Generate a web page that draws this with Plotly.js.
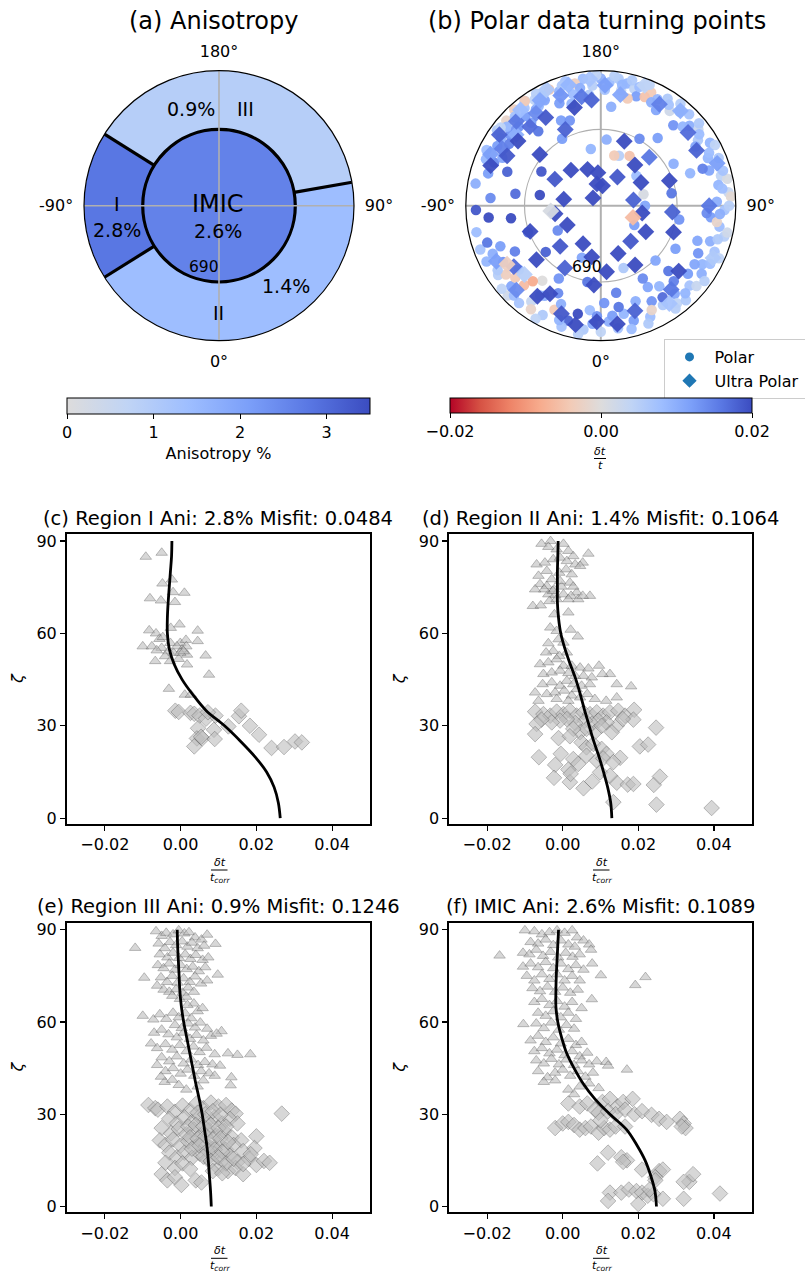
<!DOCTYPE html>
<html>
<head>
<meta charset="utf-8">
<script src="https://cdn.plot.ly/plotly-3.0.1.min.js"></script>
<style>
  html, body { margin: 0; padding: 0; background: #fff; }
  #chart { width: 805px; height: 1272px; }
</style>
</head>
<body>
<div id="chart"></div>
<script>
// ---------------------------------------------------------------------------
// Data
// ---------------------------------------------------------------------------

// Inner-core geometry (km) and angular tick labels of the two polar maps
const R_OUTER = 1221;
const R_IMIC = 690;
const ANGLE_TICKS = [0, 90, 180, 270];
const ANGLE_TICK_TEXT = ['0°', '90°', '180°', '-90°'];

// Regions of the outer shell: names, angular extent (deg), anisotropy (%) and misfit
const REGION_NAMES = ['I', 'II', 'III'];
const REGION_START = [-122, -58, 100];
const REGION_END = [-58, 100, 238];
const REGION_ANI = [2.8, 1.4, 0.9];
const REGION_MISFIT = [0.0484, 0.1064, 0.1246];
const IMIC_ANI = 2.6;
const IMIC_MISFIT = 0.1089;
const ANI_MAX = 3.5;
const ANI_TICKS = [0, 1, 2, 3];

// Polar turning points: [theta (deg), radius (km), dt/t]
const POLAR_POINTS = [
  [180,1150,0.010],[176,1120,0.008],[172,1160,0.006],[168,1130,0.009],[164,1100,0.004],[160,1150,0.007],
  [156,1120,-0.004],[152,1090,0.009],[148,1140,0.006],[144,1060,0.002],[140,1110,0.008],[136,1150,0.007],
  [132,1080,0.010],[128,1120,0.003],[124,1060,0.006],[120,1140,0.009],[184,1090,0.005],[188,1160,0.008],
  [192,1130,-0.003],[196,1170,0.007],[200,1100,0.009],[204,1150,-0.005],[208,1080,0.011],[212,1130,0.004],
  [216,1170,0.006],[220,1060,0.012],[224,1110,0.010],[228,1150,-0.002],[232,1040,0.013],[236,1000,0.015],
  [162,1040,0.012],[150,1000,0.011],[138,980,0.013],[170,1060,0.003],[186,1010,0.006],[196,960,0.009],
  [174,900,0.010],[205,850,0.012],[166,1000,-0.004],[158,1060,-0.005],
  [178,1050,0.007],[174,1180,0.005],[170,1110,0.009],[166,1170,0.006],[162,1130,0.008],[158,1180,0.004],
  [154,1040,0.010],[146,1100,0.007],[142,1170,0.005],[134,1030,0.009],[130,1160,0.006],[126,1100,0.008],
  [122,1010,0.011],[118,1170,0.004],[114,1060,0.009],[182,1180,0.004],[190,1080,0.010],[194,1040,0.008],
  [198,1140,0.006],[202,1000,0.012],[210,1170,0.005],[214,1050,0.011],[218,1120,0.007],[222,1170,-0.003],
  [226,1030,0.013],[230,1110,0.009],[234,1160,0.006],[240,1080,0.012],[244,1150,0.008],[248,1040,0.014],
  [116,1090,0.008],[112,1150,0.006],[108,1030,0.011],[104,1120,0.004],[100,1080,0.009],[96,1160,0.003],
  [92,1050,0.010],[88,1120,0.007],[84,1000,0.012],[80,1090,0.008],[76,1150,0.005],[72,1040,0.010],
  [68,1110,0.007],[64,980,0.013],[60,1060,0.009],[94,1180,-0.001],[86,960,0.014],[110,980,0.015],
  [78,1170,0.002],[70,930,0.011],[102,1170,0.001],[82,1060,-0.002],[106,1150,0.007],[98,1110,0.008],
  [90,1160,0.005],[86,1080,0.010],[74,1100,0.006],[66,1170,0.004],[62,1120,0.008],
  [56,1100,0.010],[52,1000,0.012],[48,1080,0.007],[44,950,0.015],[40,1040,0.011],[36,900,0.009],
  [32,1060,0.006],[28,980,0.013],[24,1100,0.008],[20,920,0.010],[38,1120,0.004],[46,850,0.016],
  [30,850,0.011],[50,1130,0.003],[26,1050,-0.002],[34,1000,0.017],[42,1150,0.006],[58,1000,0.011],
  [54,1160,0.005],[44,1100,0.009],[36,1150,0.005],[22,1150,0.006],
  [16,1080,0.012],[12,1000,0.009],[8,1120,0.007],[4,1050,0.010],[0,1140,0.004],[-4,1070,0.011],
  [-8,1130,0.006],[-12,1000,0.020],[-16,1080,0.018],[10,930,0.016],[2,880,0.013],[-6,950,0.008],
  [14,1150,0.008],[6,1000,0.012],[-2,1000,0.013],[-10,1180,0.005],[-18,1150,0.007],
  [-20,1100,0.009],[-24,1030,-0.004],[-28,1120,0.006],[-32,960,0.010],[-36,1070,0.003],[-40,1150,0.007],
  [-44,1000,-0.006],[-48,1090,0.011],[-52,940,0.008],[-56,1120,0.005],[-60,1020,0.013],[-64,1150,0.009],
  [-68,980,0.012],[-26,880,0.014],[-38,860,0.000],[-46,1170,0.002],[-54,1060,-0.003],[-30,1180,0.004],
  [-62,880,0.015],[-42,920,-0.008],[-22,960,0.010],[-34,1130,-0.002],[-50,1170,0.004],[-58,1100,0.006],
  [-66,1070,0.010],[-70,1160,0.007],[-34,980,0.009],[-50,1010,-0.004],[-44,1130,0.008],
  [-72,1080,0.016],[-78,1150,0.008],[-84,1020,0.020],[-88,1130,0.019],[-94,1000,0.014],[-100,1150,0.010],
  [-106,1060,0.012],[-112,1120,0.009],[-116,990,0.011],[-82,820,0.020],[-98,780,0.017],
  [-124,1090,0.010],[-128,1150,0.004],[-132,1030,0.013],[-136,1120,0.007],[-140,980,0.012],[-144,1170,-0.004],
  [-148,1060,0.009],[-152,1130,0.006],
  [150,700,0.014],[140,800,0.012],[120,760,0.010],[100,650,0.016],[80,720,0.013],[60,780,0.012],
  [45,700,0.011],[30,760,0.014],[10,800,0.015],[-10,700,0.016],[-30,760,0.013],[-50,650,0.018],
  [-70,700,0.017],[-100,560,0.020],[-120,620,0.019],[-150,700,0.012],[-170,520,0.009],[175,600,0.010],
  [160,480,0.005],[130,420,0.008],[90,400,0.011],[60,350,0.012],[-60,450,0.014],[-110,900,0.018],
  [-140,880,0.016],[-160,820,0.013],[110,860,0.009],[20,600,0.006],[-20,500,0.011],[165,470,-0.004],
  [150,520,-0.005],[105,400,0.001]
];

// Ultra-polar turning points: [theta (deg), radius (km), dt/t]
const ULTRA_POINTS = [
  [160,620,0.020],[140,480,0.020],[150,300,0.019],[120,420,0.020],[100,300,0.018],[80,380,0.020],
  [60,470,0.020],[40,420,0.019],[20,460,0.020],[5,600,0.020],[-10,470,0.020],[-25,380,0.020],
  [-45,520,0.019],[-60,350,0.020],[-80,420,0.020],[-100,340,0.020],[-120,480,0.019],[-140,420,0.020],
  [-160,350,0.020],[-175,300,0.020],[175,180,0.020],[135,620,0.016],[110,660,0.020],[85,650,0.018],
  [70,700,0.020],[30,620,0.020],[-5,720,0.020],[-30,650,0.018],[-50,760,0.020],[-70,680,0.020],
  [-130,720,0.020],[-155,760,0.018],[190,200,0.020],[225,100,0.020],[70,310,-0.006],[-84,455,0.001],
  [-115,1100,0.012],[-120,1030,0.015],[-125,1120,0.018],[-130,1000,0.010],[-135,1080,0.016],[-140,1130,0.008],
  [-145,1020,0.014],[-150,1100,0.011],[-155,1160,0.006],[-160,1060,0.013],[-165,1130,0.009],[-170,1000,0.016],
  [-175,1150,0.007],[178,1090,0.012],[170,1020,0.011],[160,1160,0.004],[150,1060,0.015],[140,1120,0.010],
  [130,1030,0.017],[120,1000,0.018],[110,1120,0.012],[-110,1060,0.020],[-118,960,0.019],[-128,950,0.020],
  [-138,960,0.017],[-148,940,0.019],[-165,920,0.020],[-175,960,0.018],[-12,1100,0.020],[-2,1050,0.020],
  [8,1080,0.020],[-20,1040,0.019],[-35,1000,0.020],[-45,1080,0.014],[-55,960,0.017],[-62,1070,0.012],
  [-58,1000,-0.003],[-48,930,0.005],[-30,920,0.020],[18,1000,0.018],[40,990,0.016],[50,920,0.020],
  [65,1120,0.006],[35,1080,0.007],[90,980,0.016]
];
const DT_RANGE = [-0.02, 0.02];

// Residuals against zeta: [dt/t_corr, zeta] for polar (triangles) and ultra-polar (diamonds)
const REGION_I_POLAR = [
  [-0.0092,84.9],[-0.0050,86.2],[-0.0048,76.2],[-0.0023,77.5],[-0.0020,73.4],[0.0010,73.2],[-0.0081,71.4],
  [-0.0052,70.7],[-0.0015,70.2],[-0.0083,61.0],[-0.0065,60.0],[-0.0026,61.8],[-0.0003,62.9],[0.0045,60.9],
  [-0.0100,55.8],[-0.0076,55.8],[-0.0056,58.2],[-0.0047,58.8],[-0.0027,56.9],[-0.0001,56.9],[0.0014,57.9],
  [0.0045,57.5],[-0.0067,51.0],[-0.0050,55.3],[-0.0032,54.2],[-0.0019,53.7],[-0.0010,55.8],[0.0004,54.8],
  [0.0015,55.8],[0.0017,53.1],[-0.0063,54.5],[-0.0041,52.6],[-0.0028,51.0],[-0.0005,51.7],[0.0017,49.9],
  [0.0066,52.8],[0.0075,46.6],[-0.0031,42.0],[0.0011,40.1],[0.0027,40.1],[-0.0001,53.7],[0.0008,54.2]
];
const REGION_I_ULTRA = [
  [-0.0014,34.9],[-0.0005,34.5],[0.0026,34.2],[0.0036,33.9],[0.0050,33.3],[0.0067,32.3],[0.0092,33.3],
  [0.0072,34.4],[0.0126,29.8],[0.0154,33.1],[0.0160,34.9],[0.0183,30.0],[0.0207,27.1],[0.0240,22.8],
  [0.0273,23.1],[0.0302,24.9],[0.0320,24.6],[0.0046,29.2],[0.0088,28.7],[0.0043,25.9],[0.0057,25.9],
  [0.0090,25.7],[0.0036,23.3],[0.0054,26.4]
];
const REGION_II_POLAR = [
  [-0.0056,89.1],[-0.0032,90.0],[0.0002,89.1],[-0.0038,88.1],[-0.0016,87.3],[0.0015,86.8],[0.0028,85.1],
  [0.0068,85.9],[0.0053,83.0],[-0.0069,82.4],[-0.0047,83.0],[-0.0025,84.1],[-0.0007,84.6],[0.0011,83.5],
  [0.0033,82.4],[-0.0064,78.7],[-0.0042,80.3],[-0.0029,77.6],[-0.0009,79.7],[0.0009,80.8],[0.0024,79.2],
  [0.0046,81.9],[-0.0060,76.0],[-0.0042,75.4],[-0.0023,74.3],[-0.0003,75.2],[0.0019,76.5],[0.0037,73.3],
  [-0.0038,72.7],[-0.0020,72.4],[0.0002,72.7],[0.0022,72.2],[0.0041,71.1],[0.0072,72.2],[-0.0079,68.9],
  [-0.0058,69.1],[-0.0035,70.5],[-0.0016,71.1],[0.0015,71.1],[-0.0026,73.8],[-0.0049,74.3],[0.0053,72.2],
  [-0.0073,74.3],[-0.0007,77.0],[0.0028,75.2],
  [-0.0022,66.2],[0.0015,66.8],[-0.0033,61.9],[-0.0016,60.8],[0.0021,61.2],[0.0040,59.0],[-0.0038,56.8],
  [-0.0011,58.1],[0.0002,57.0],[-0.0025,54.3],[0.0011,53.8],[-0.0009,52.7],[-0.0044,53.8],
  [-0.0060,50.0],[-0.0038,50.6],[-0.0016,51.6],[0.0002,49.5],[0.0024,49.5],[0.0046,48.9],[0.0068,48.6],
  [0.0096,49.5],[0.0125,46.8],[-0.0051,46.8],[-0.0029,47.3],[-0.0007,47.9],[0.0015,47.1],[0.0033,46.2],
  [0.0055,46.2],[0.0077,45.7],[0.0105,46.8],[0.0143,43.5],[0.0181,42.8],[-0.0073,40.8],[-0.0053,43.5],
  [-0.0029,44.1],[-0.0007,43.0],[0.0011,44.6],[0.0028,43.5],[0.0050,43.0],[0.0072,43.5],[-0.0064,38.1],
  [-0.0042,40.3],[-0.0020,40.8],[0.0004,41.4],[0.0024,39.8],[0.0046,39.2],[0.0065,40.3],[0.0085,38.7],
  [0.0115,38.1],[0.0143,39.2],[0.0015,38.1],[-0.0016,38.7],[0.0037,41.9]
];
const REGION_II_ULTRA = [
  [-0.0073,34.6],[-0.0051,33.8],[-0.0033,33.3],[-0.0016,34.6],[0.0002,33.8],[0.0019,34.9],[0.0037,33.3],
  [0.0055,34.4],[0.0072,33.8],[0.0090,34.4],[0.0107,33.3],[0.0125,34.4],[0.0147,34.9],[0.0165,33.3],
  [0.0189,35.2],[0.0187,32.0],[0.0143,30.0],[0.0116,31.1],[0.0094,31.7],[0.0077,30.6],[0.0059,31.7],
  [0.0033,30.9],[0.0011,32.2],[-0.0007,31.7],[-0.0029,31.1],[-0.0056,32.0],[-0.0069,30.6],[-0.0073,27.3],
  [0.0046,27.9],[0.0085,27.9],[0.0063,29.0],[0.0028,29.0],[0.0103,30.0],[0.0130,27.9],[0.0247,29.4],
  [0.0159,32.2],[-0.0011,26.0],[0.0019,26.6],[0.0050,24.6],[0.0063,23.0],[0.0081,24.1],[0.0103,22.5],
  [0.0116,20.9],[0.0152,19.6],[0.0204,23.3],[0.0226,23.9],[-0.0063,19.8],[-0.0005,20.9],[0.0028,19.2],
  [0.0041,17.6],[0.0063,20.3],[0.0090,18.7],[0.0107,19.4],[0.0134,18.2],[-0.0020,17.3],[0.0015,15.8],
  [-0.0023,13.1],[0.0019,11.7],[0.0078,11.9],[0.0055,9.7],[0.0021,14.4],[0.0143,11.5],[0.0172,10.9],
  [0.0187,11.1],[0.0241,10.8],[0.0257,13.5],[0.0134,5.2],[0.0248,4.4],[0.0394,3.3],[0.0099,14.9],
  [0.0125,13.8]
];
const REGION_III_POLAR = [
  [-0.0065,89.5],[-0.0050,88.0],[-0.0038,89.0],[-0.0020,88.5],[-0.0005,89.8],[0.0010,88.8],[0.0022,89.2],
  [0.0038,87.5],[0.0055,86.8],[0.0070,88.4],[0.0092,85.4],[-0.0058,85.5],[-0.0042,84.0],[-0.0028,86.0],
  [-0.0012,85.0],[0.0004,86.2],[0.0018,84.5],[0.0030,85.8],[0.0045,84.0],[0.0062,84.8],[-0.0120,84.1],
  [-0.0055,82.0],[-0.0035,81.0],[-0.0020,82.5],[-0.0004,80.8],[0.0012,82.0],[0.0026,80.5],[0.0040,81.8],
  [0.0058,80.2],[0.0073,81.0],[-0.0060,78.5],[-0.0045,77.5],[-0.0030,79.0],[-0.0015,77.0],[0.0000,78.5],
  [0.0016,77.2],[0.0032,78.0],[0.0048,76.5],[0.0065,77.8],[0.0098,75.4],[-0.0096,74.4],[-0.0052,74.5],
  [-0.0036,73.0],[-0.0022,75.0],[-0.0008,72.8],[0.0008,74.2],[0.0024,73.0],[0.0038,74.8],[0.0054,72.5],
  [0.0070,73.5],[-0.0062,71.8],[-0.0045,70.5],[-0.0030,69.8],[-0.0012,70.6],[0.0005,69.5],[0.0020,71.2],
  [0.0035,69.8],[-0.0022,68.5],[-0.0002,67.5],[0.0015,68.2],
  [-0.0100,62.0],[-0.0072,60.8],[-0.0055,62.5],[-0.0038,61.0],[-0.0020,63.0],[-0.0005,61.5],[0.0012,62.8],
  [0.0028,61.2],[0.0045,63.5],[0.0058,64.5],[0.0035,66.0],[0.0018,65.5],[-0.0015,59.0],[0.0003,58.0],
  [0.0020,59.5],[0.0038,58.2],[0.0052,59.8],[0.0070,57.8],[0.0108,57.0],[-0.0070,56.5],[-0.0050,57.5],
  [-0.0032,56.0],[-0.0010,55.0],[0.0008,56.5],[0.0025,54.5],[0.0042,55.8],[0.0060,54.0],[0.0080,55.5],
  [0.0095,56.2],[-0.0078,53.0],[-0.0062,51.5],[-0.0040,52.8],[-0.0022,51.0],[-0.0002,52.5],[0.0016,50.5],
  [0.0034,52.0],[0.0050,50.2],[0.0068,51.6],[0.0090,49.5],[0.0125,49.8],[0.0150,49.3],[0.0184,49.5],
  [-0.0050,48.5],[-0.0030,47.2],[-0.0010,48.8],[0.0008,46.5],[0.0028,47.8],[0.0046,46.0],[0.0064,47.0],
  [0.0084,46.2],[0.0104,45.8],[-0.0062,46.0],[-0.0040,44.0],[-0.0020,45.0],[0.0000,43.2],[0.0018,44.5],
  [0.0036,42.5],[0.0054,44.0],[0.0075,43.3],[0.0090,42.5],[0.0134,42.0],[-0.0042,40.5],[-0.0022,41.2],
  [-0.0005,39.5],[0.0015,38.0],[0.0045,39.0],[0.0060,41.0],[0.0132,39.4],[-0.0052,42.2]
];
const REGION_III_ULTRA = [
  [-0.0085,33.0],[-0.0067,32.0],[-0.0060,31.5],[-0.0035,32.5],[-0.0015,30.8],[0.0005,32.8],[0.0025,31.2],
  [0.0042,33.5],[0.0060,32.0],[0.0080,33.8],[0.0100,32.5],[0.0120,33.0],[0.0135,31.2],[0.0145,30.2],
  [0.0267,30.2],[-0.0030,28.5],[-0.0010,27.0],[0.0010,29.0],[0.0030,27.5],[0.0050,29.2],[0.0070,27.8],
  [0.0090,29.0],[0.0110,27.0],[0.0130,28.5],[0.0150,27.0],[-0.0050,25.5],[-0.0025,23.8],[-0.0005,25.2],
  [0.0015,23.5],[0.0035,25.0],[0.0055,23.2],[0.0075,24.8],[0.0095,23.0],[0.0115,24.5],[0.0135,22.5],
  [0.0160,21.5],[0.0200,22.8],[-0.0055,21.5],[-0.0040,20.0],[-0.0020,21.8],[0.0000,19.8],[0.0020,21.2],
  [0.0040,19.5],[0.0060,21.0],[0.0080,19.0],[0.0100,20.5],[0.0120,18.5],[0.0140,20.0],[0.0165,18.0],
  [0.0195,19.0],[-0.0030,17.5],[-0.0010,16.0],[0.0010,17.5],[0.0030,15.8],[0.0050,17.2],[0.0070,15.5],
  [0.0090,17.0],[0.0110,15.0],[0.0130,16.5],[0.0150,14.5],[0.0180,15.5],[0.0200,13.5],[0.0220,14.8],
  [0.0235,14.2],[-0.0040,14.2],[-0.0015,12.5],[0.0005,14.0],[0.0025,12.2],[0.0100,12.5],[0.0125,11.5],
  [0.0145,12.5],[0.0165,10.5],[-0.0050,10.5],[-0.0035,8.5],[-0.0015,9.5],[0.0002,7.0],[0.0040,8.5],
  [0.0055,7.8],[0.0045,30.5],[0.0065,30.0],[0.0085,31.0],[0.0105,29.8],[0.0020,26.0],[0.0040,26.5],
  [0.0060,26.0],[0.0080,26.5],[0.0100,25.5],[0.0120,26.0],[0.0025,22.5],[0.0045,22.0],[0.0065,22.8],
  [0.0085,21.8],[0.0105,22.2],[0.0125,21.0],[0.0030,18.8],[0.0050,19.8],[0.0070,18.2],[0.0090,18.5],
  [0.0110,17.8],[0.0060,16.2],[0.0080,14.8],[0.0100,16.0],[0.0120,14.0],[0.0140,15.5],[0.0085,11.5],
  [0.0110,10.8],[0.0165,13.8],[0.0185,17.0]
];
const IMIC_POLAR = [
  [-0.0100,89.8],[-0.0075,89.5],[-0.0055,88.5],[-0.0035,89.2],[-0.0015,89.8],[0.0005,89.0],[0.0025,89.8],
  [0.0038,87.5],[0.0055,86.5],[0.0070,85.2],[-0.0085,86.0],[-0.0065,85.5],[-0.0045,86.8],[-0.0025,85.0],
  [-0.0005,86.5],[0.0015,85.2],[0.0032,84.5],[-0.0167,81.6],[-0.0105,82.5],[-0.0088,82.0],[-0.0070,83.5],
  [-0.0052,81.5],[-0.0032,82.8],[-0.0012,81.0],[0.0008,82.5],[0.0026,81.2],[0.0045,82.0],[0.0075,83.5],
  [-0.0105,78.0],[-0.0085,79.0],[-0.0065,77.8],[-0.0045,79.5],[-0.0025,77.5],[-0.0005,79.0],[0.0015,77.2],
  [0.0035,78.5],[0.0055,77.0],[0.0078,79.0],[-0.0095,75.0],[-0.0075,73.5],[-0.0055,75.5],[-0.0035,74.0],
  [-0.0015,75.5],[0.0005,73.5],[0.0025,75.0],[0.0045,73.5],[0.0101,75.2],[0.0192,72.0],[0.0219,74.6],
  [-0.0080,71.0],[-0.0060,70.0],[-0.0040,71.5],[-0.0020,69.8],[0.0000,71.2],[0.0020,69.5],[0.0040,70.5],
  [-0.0075,66.5],[-0.0055,67.5],[-0.0035,65.5],[-0.0015,66.8],[0.0005,65.0],[0.0025,66.5],[0.0077,67.4],
  [0.0050,64.5],[-0.0065,63.0],[-0.0045,62.0],[-0.0025,63.5],[-0.0005,61.5],[0.0015,63.0],[0.0035,61.0],
  [-0.0104,59.3],[-0.0070,59.5],[-0.0050,58.0],[-0.0030,59.8],[-0.0010,57.5],[0.0010,59.0],[0.0030,57.8],
  [-0.0085,54.0],[-0.0065,55.5],[-0.0045,53.5],[-0.0025,55.0],[-0.0005,53.0],[0.0015,54.5],[0.0035,52.5],
  [0.0050,53.5],[-0.0075,50.5],[-0.0055,51.5],[-0.0035,49.8],[-0.0015,51.0],[0.0005,49.2],[0.0025,50.5],
  [0.0045,48.8],[0.0065,50.0],[-0.0070,47.5],[-0.0050,46.5],[-0.0030,48.0],[-0.0010,46.2],[0.0010,47.8],
  [0.0030,46.0],[0.0050,47.5],[0.0070,46.2],[0.0090,47.2],[0.0115,47.0],[0.0120,45.8],[0.0170,44.5],
  [-0.0065,44.0],[-0.0040,42.0],[-0.0020,43.5],[0.0000,44.5],[0.0020,42.5],[0.0040,44.0],[0.0060,42.2],
  [0.0080,43.5],[-0.0050,40.5],[-0.0020,41.0],[0.0015,38.0],[0.0045,39.0],[0.0070,40.0],[0.0095,38.5],
  [0.0030,36.5]
];
const IMIC_ULTRA = [
  [0.0015,33.5],[0.0045,32.5],[0.0065,33.5],[0.0085,31.5],[0.0105,34.0],[0.0125,35.0],[0.0145,32.5],
  [0.0160,34.0],[0.0185,35.0],[0.0095,30.5],[0.0120,31.0],[0.0140,30.0],[0.0165,31.5],[0.0190,30.0],
  [0.0210,31.0],[0.0235,29.8],[0.0255,28.5],[0.0275,27.5],[0.0310,28.5],[0.0320,27.0],[0.0325,25.5],
  [0.0315,26.0],[-0.0020,25.5],[0.0000,27.0],[0.0015,27.5],[0.0030,26.5],[0.0045,25.0],[0.0060,25.5],
  [0.0075,26.0],[0.0095,24.0],[0.0110,25.5],[0.0125,25.0],[0.0140,26.0],[0.0165,26.0],[0.0100,28.0],
  [0.0120,17.5],[0.0092,14.0],[0.0155,16.0],[0.0170,15.0],[0.0160,14.5],[0.0210,12.0],[0.0255,11.5],
  [0.0265,12.0],[0.0245,9.5],[0.0335,8.0],[0.0345,10.5],[0.0320,8.0],[0.0125,4.5],[0.0155,4.5],
  [0.0175,5.5],[0.0195,5.0],[0.0210,4.5],[0.0225,3.5],[0.0240,4.0],[0.0265,2.5],[0.0120,1.8],
  [0.0200,0.8],[0.0320,2.5],[0.0416,4.2],[0.0245,8.5],[0.0230,5.5]
];

// Best-fitting model curves, sampled every 5 degrees of zeta
const CURVE_ZETA = [0,5,10,15,20,25,30,35,40,45,50,55,60,65,70,75,80,85,90];
const CURVE_I = [0.0263,0.0258,0.0247,0.0227,0.0196,0.0158,0.0116,0.0067,0.0033,0.0004,-0.0017,-0.0030,-0.0035,-0.0035,-0.0033,-0.0030,-0.0027,-0.0024,-0.0023];
const CURVE_II = [0.0130,0.0127,0.0119,0.0108,0.0096,0.0082,0.0070,0.0058,0.0047,0.0035,0.0020,0.0006,-0.0005,-0.0011,-0.0014,-0.0014,-0.0014,-0.0013,-0.0012];
const CURVE_III = [0.0081,0.0079,0.0076,0.0073,0.0069,0.0063,0.0057,0.0049,0.0040,0.0032,0.0024,0.0016,0.0008,0.0002,-0.0002,-0.0004,-0.0006,-0.0008,-0.0009];
const CURVE_IMIC = [0.0248,0.0244,0.0233,0.0218,0.0196,0.0169,0.0125,0.0085,0.0054,0.0030,0.0010,-0.0003,-0.0013,-0.0018,-0.0018,-0.0017,-0.0015,-0.0013,-0.0011];

// Axis ticks of the residual panels
const X_RANGE = [-0.03, 0.05];
const X_TICKS = [-0.02, 0, 0.02, 0.04];
const X_TICK_TEXT = ['\u22120.02', '0.00', '0.02', '0.04'];
const Y_RANGE = [-1.9, 92.3];
const Y_TICKS = [0, 30, 60, 90];

// ---------------------------------------------------------------------------
// Styling helpers
// ---------------------------------------------------------------------------
const W = 805, H = 1272;
const px = v => v / W;           // pixel column -> paper x
const py = v => 1 - v / H;       // pixel row    -> paper y
const FONT = '"DejaVu Sans", Verdana, sans-serif';
const font = (size, extra) => Object.assign({ family: FONT, size: size, color: '#000' }, extra || {});

// matplotlib "coolwarm" sampled at 11 stops
const COOLWARM = ['#3b4cc0','#5977e3','#7b9ff9','#9ebeff','#c0d4f5','#dddcdc',
                  '#f2cbb7','#f7ac8e','#ee8468','#d65244','#b40426'];
const ANI_SCALE = [[0, COOLWARM[5]], [0.2, COOLWARM[4]], [0.4, COOLWARM[3]],
                   [0.6, COOLWARM[2]], [0.8, COOLWARM[1]], [1, COOLWARM[0]]];
const DT_SCALE = COOLWARM.slice().reverse().map((c, i) => [i / 10, c]);

const traces = [];
const annotations = [];
const shapes = [];

// ---------------------------------------------------------------------------
// (a) Anisotropy map
// ---------------------------------------------------------------------------
const sectorCentres = REGION_START.map((s, i) => (s + REGION_END[i]) / 2);
const sectorWidths = REGION_START.map((s, i) => REGION_END[i] - s);

traces.push({
  type: 'barpolar', subplot: 'polar',
  theta: sectorCentres.concat([0]),
  width: sectorWidths.concat([360]),
  base: REGION_NAMES.map(() => R_IMIC).concat([0]),
  r: REGION_NAMES.map(() => R_OUTER - R_IMIC).concat([R_IMIC]),
  marker: {
    color: REGION_ANI.concat([IMIC_ANI]),
    colorscale: ANI_SCALE, cmin: 0, cmax: ANI_MAX, showscale: true,
    line: { width: 0 },
    colorbar: {
      orientation: 'h', x: px(218.5), xanchor: 'center', y: py(398), yanchor: 'top',
      len: 303 / W, lenmode: 'fraction', thickness: 15.5, thicknessmode: 'pixels',
      xpad: 0, ypad: 0, outlinewidth: 1, outlinecolor: '#000',
      ticks: 'outside', ticklen: 5, tickwidth: 1, tickcolor: '#000',
      tickvals: ANI_TICKS, tickfont: font(16),
      title: { text: 'Anisotropy %', side: 'bottom', font: font(16) }
    }
  },
  showlegend: false, hoverinfo: 'skip'
});

// grid cross drawn on top of the filled sectors
const crossR = [], crossT = [];
ANGLE_TICKS.forEach(t => { crossR.push(0, R_OUTER, null); crossT.push(t, t, null); });
traces.push({
  type: 'scatterpolar', subplot: 'polar', mode: 'lines',
  r: crossR, theta: crossT, line: { color: '#b0b0b0', width: 1.6 },
  showlegend: false, hoverinfo: 'skip'
});

// IMIC boundary
traces.push({
  type: 'barpolar', subplot: 'polar',
  theta: [0], width: [360], base: [0], r: [R_IMIC],
  marker: { color: 'rgba(0,0,0,0)', line: { color: '#000', width: 3.2 } },
  showlegend: false, hoverinfo: 'skip'
});

// region boundaries in the outer shell
const edgeR = [], edgeT = [];
REGION_END.forEach(a => { edgeR.push(R_IMIC, R_OUTER, null); edgeT.push(a, a, null); });
traces.push({
  type: 'scatterpolar', subplot: 'polar', mode: 'lines',
  r: edgeR, theta: edgeT, line: { color: '#000', width: 3.2 },
  showlegend: false, hoverinfo: 'skip'
});

// ---------------------------------------------------------------------------
// (b) Turning points
// ---------------------------------------------------------------------------
traces.push({
  type: 'scatterpolar', subplot: 'polar2', mode: 'markers', name: 'Polar',
  theta: POLAR_POINTS.map(p => p[0]), r: POLAR_POINTS.map(p => p[1]),
  marker: {
    symbol: 'circle', size: 10.5, opacity: 0.95,
    color: POLAR_POINTS.map(p => p[2]), colorscale: DT_SCALE,
    cmin: DT_RANGE[0], cmax: DT_RANGE[1], showscale: true,
    colorbar: {
      orientation: 'h', x: px(601), xanchor: 'center', y: py(397.7), yanchor: 'top',
      len: 302 / W, lenmode: 'fraction', thickness: 14.6, thicknessmode: 'pixels',
      xpad: 0, ypad: 0, outlinewidth: 1, outlinecolor: '#000',
      ticks: 'outside', ticklen: 5, tickwidth: 1, tickcolor: '#000',
      tickvals: [DT_RANGE[0], 0, DT_RANGE[1]], ticktext: ['\u22120.02', '0.00', '0.02'],
      tickfont: font(16)
    }
  },
  showlegend: false, hoverinfo: 'skip'
});
traces.push({
  type: 'scatterpolar', subplot: 'polar2', mode: 'markers', name: 'Ultra Polar',
  theta: ULTRA_POINTS.map(p => p[0]), r: ULTRA_POINTS.map(p => p[1]),
  marker: {
    symbol: 'diamond', size: 13, opacity: 0.95,
    color: ULTRA_POINTS.map(p => p[2]), colorscale: DT_SCALE,
    cmin: DT_RANGE[0], cmax: DT_RANGE[1], showscale: false
  },
  showlegend: false, hoverinfo: 'skip'
});
// legend entries
[['Polar', 'circle', 9], ['Ultra Polar', 'diamond', 11]].forEach(([name, symbol, size]) => {
  traces.push({
    type: 'scatterpolar', subplot: 'polar2', mode: 'markers', name: name,
    r: [null], theta: [null], marker: { symbol: symbol, size: size, color: '#1f77b4' },
    showlegend: true, hoverinfo: 'skip'
  });
});

// ---------------------------------------------------------------------------
// (c)-(f) Residuals against zeta
// ---------------------------------------------------------------------------
const panels = [
  { letter: 'c', label: 'Region ' + REGION_NAMES[0], ani: REGION_ANI[0], misfit: REGION_MISFIT[0],
    tri: REGION_I_POLAR, dia: REGION_I_ULTRA, curve: CURVE_I, box: [67, 370, 534, 824] },
  { letter: 'd', label: 'Region ' + REGION_NAMES[1], ani: REGION_ANI[1], misfit: REGION_MISFIT[1],
    tri: REGION_II_POLAR, dia: REGION_II_ULTRA, curve: CURVE_II, box: [449.3, 751.7, 534, 824] },
  { letter: 'e', label: 'Region ' + REGION_NAMES[2], ani: REGION_ANI[2], misfit: REGION_MISFIT[2],
    tri: REGION_III_POLAR, dia: REGION_III_ULTRA, curve: CURVE_III, box: [67, 370, 922.7, 1212.3] },
  { letter: 'f', label: 'IMIC', ani: IMIC_ANI, misfit: IMIC_MISFIT,
    tri: IMIC_POLAR, dia: IMIC_ULTRA, curve: CURVE_IMIC, box: [449.3, 751.7, 922.7, 1212.3] }
];

const layout = {
  width: W, height: H,
  margin: { l: 0, r: 0, t: 0, b: 0, pad: 0, autoexpand: false },
  paper_bgcolor: '#fff', plot_bgcolor: '#fff',
  font: font(16),
  showlegend: true,
  legend: {
    x: px(663.5), xanchor: 'left', y: py(339), yanchor: 'top',
    bgcolor: 'rgba(255,255,255,0.85)', bordercolor: '#cccccc', borderwidth: 1,
    font: font(16), itemwidth: 40, tracegroupgap: 0
  }
};

const markerLine = { color: '#444', width: 0.6 };
panels.forEach((p, i) => {
  const n = i + 1;
  const xa = 'x' + (n === 1 ? '' : n), ya = 'y' + (n === 1 ? '' : n);
  const [x0, x1, y0, y1] = p.box;
  traces.push({
    type: 'scatter', mode: 'markers', xaxis: xa, yaxis: ya,
    x: p.tri.map(d => d[0]), y: p.tri.map(d => d[1]),
    marker: { symbol: 'triangle-up', size: 10, color: '#bdbdbd', opacity: 0.6, line: markerLine },
    showlegend: false, hoverinfo: 'skip'
  });
  traces.push({
    type: 'scatter', mode: 'markers', xaxis: xa, yaxis: ya,
    x: p.dia.map(d => d[0]), y: p.dia.map(d => d[1]),
    marker: { symbol: 'diamond', size: 12, color: '#bdbdbd', opacity: 0.6, line: markerLine },
    showlegend: false, hoverinfo: 'skip'
  });
  traces.push({
    type: 'scatter', mode: 'lines', xaxis: xa, yaxis: ya,
    x: p.curve, y: CURVE_ZETA,
    line: { color: '#000', width: 2.8, shape: 'spline', smoothing: 1 },
    showlegend: false, hoverinfo: 'skip'
  });

  const axisCommon = {
    showline: true, linecolor: '#000', linewidth: 2, mirror: true,
    ticks: 'outside', ticklen: 5, tickwidth: 1.2, tickcolor: '#000',
    showgrid: false, zeroline: false, fixedrange: true, tickfont: font(16)
  };
  layout['xaxis' + (n === 1 ? '' : n)] = Object.assign({}, axisCommon, {
    domain: [px(x0), px(x1)], anchor: ya, range: X_RANGE,
    tickvals: X_TICKS, ticktext: X_TICK_TEXT
  });
  layout['yaxis' + (n === 1 ? '' : n)] = Object.assign({}, axisCommon, {
    domain: [py(y1), py(y0)], anchor: xa, range: Y_RANGE, tickvals: Y_TICKS
  });

  const cx = (x0 + x1) / 2;
  // panel title
  annotations.push({
    xref: 'paper', yref: 'paper', x: px(cx), y: py(y0 - 16), xanchor: 'center', yanchor: 'middle',
    text: '(' + p.letter + ') ' + p.label + ' Ani: ' + p.ani.toFixed(1) + '% Misfit: ' + p.misfit.toFixed(4),
    showarrow: false, font: font(19.5)
  });
  // zeta label
  annotations.push({
    xref: 'paper', yref: 'paper', x: px(x0 - 50), y: py((y0 + y1) / 2), xanchor: 'center', yanchor: 'middle',
    text: '<i>ζ</i>', textangle: -90, showarrow: false, font: font(16)
  });
  // dt / t_corr fraction label
  annotations.push({
    xref: 'paper', yref: 'paper', x: px(cx + 1), y: py(y1 + 38.5), xanchor: 'center', yanchor: 'middle',
    text: '<i>δt</i>', showarrow: false, font: font(11)
  });
  annotations.push({
    xref: 'paper', yref: 'paper', x: px(cx + 1), y: py(y1 + 53.5), xanchor: 'center', yanchor: 'middle',
    text: '<i>t</i><sub><i>corr</i></sub>', showarrow: false, font: font(11)
  });
  shapes.push({
    type: 'line', xref: 'paper', yref: 'paper',
    x0: px(cx - 7.5), x1: px(cx + 9), y0: py(y1 + 46), y1: py(y1 + 46),
    line: { color: '#000', width: 1 }
  });
});

// ---------------------------------------------------------------------------
// Polar subplots
// ---------------------------------------------------------------------------
function polarAxes(domainX, gridOn) {
  return {
    domain: { x: domainX, y: [py(340.7), py(70.7)] },
    bgcolor: '#fff',
    angularaxis: {
      rotation: -90, direction: 'counterclockwise',
      tickvals: ANGLE_TICKS, ticktext: ANGLE_TICK_TEXT,
      showline: true, linecolor: '#000', linewidth: 1.2,
      showgrid: gridOn, gridcolor: '#b0b0b0', gridwidth: 2,
      ticks: 'outside', ticklen: 7, tickcolor: 'rgba(0,0,0,0)',
      tickfont: font(16)
    },
    radialaxis: {
      range: [0, R_OUTER], tickvals: [R_IMIC], showticklabels: false,
      ticks: '', showline: false,
      showgrid: gridOn, gridcolor: '#b0b0b0', gridwidth: 1.2
    }
  };
}
layout.polar = polarAxes([px(84), px(354)], false);
layout.polar2 = polarAxes([px(465.8), px(735.8)], true);

// titles of the map panels
annotations.push({ xref: 'paper', yref: 'paper', x: px(214), y: py(21), xanchor: 'center', yanchor: 'middle',
  text: '(a) Anisotropy', showarrow: false, font: font(24) });
annotations.push({ xref: 'paper', yref: 'paper', x: px(597), y: py(21), xanchor: 'center', yanchor: 'middle',
  text: '(b) Polar data turning points', showarrow: false, font: font(24) });

// region labels inside the anisotropy map
const pct = v => v.toFixed(1) + '%';
[
  ['IMIC', 218, 204, 24], [pct(IMIC_ANI), 218, 231, 19],
  [REGION_NAMES[0], 117, 204, 19], [pct(REGION_ANI[0]), 117, 230, 19],
  [pct(REGION_ANI[2]), 191, 109, 19], [REGION_NAMES[2], 245, 109, 19],
  [pct(REGION_ANI[1]), 286, 286, 19], [REGION_NAMES[1], 218, 313, 19],
  [String(R_IMIC), 204, 267, 15.5], [String(R_IMIC), 587, 267, 15.5]
].forEach(([t, x, y, s]) => annotations.push({
  xref: 'paper', yref: 'paper', x: px(x), y: py(y), xanchor: 'center', yanchor: 'middle',
  text: t, showarrow: false, font: font(s)
}));

// dt / t label under the second colour bar
annotations.push({ xref: 'paper', yref: 'paper', x: px(600), y: py(451.5), xanchor: 'center', yanchor: 'middle',
  text: '<i>δt</i>', showarrow: false, font: font(11) });
annotations.push({ xref: 'paper', yref: 'paper', x: px(600), y: py(465.5), xanchor: 'center', yanchor: 'middle',
  text: '<i>t</i>', showarrow: false, font: font(11) });
shapes.push({ type: 'line', xref: 'paper', yref: 'paper', x0: px(594), x1: px(606), y0: py(458.5), y1: py(458.5),
  line: { color: '#000', width: 1 } });

layout.annotations = annotations;
layout.shapes = shapes;

Plotly.newPlot('chart', traces, layout, { staticPlot: true, displayModeBar: false });
</script>
</body>
</html>
